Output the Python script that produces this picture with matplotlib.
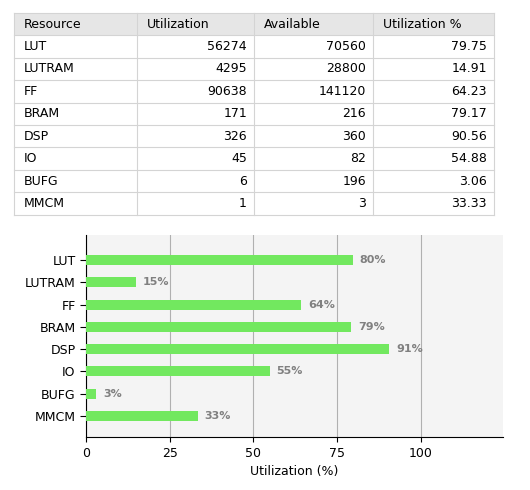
import matplotlib
matplotlib.use("Agg")
import matplotlib.pyplot as plt
from matplotlib.patches import Rectangle

resources = ["LUT", "LUTRAM", "FF", "BRAM", "DSP", "IO", "BUFG", "MMCM"]
utilization = [56274, 4295, 90638, 171, 326, 45, 6, 1]
available = [70560, 28800, 141120, 216, 360, 82, 196, 3]
util_pct = [79.75, 14.91, 64.23, 79.17, 90.56, 54.88, 3.06, 33.33]
headers = ["Resource", "Utilization", "Available", "Utilization %"]

W, H = 530, 490
fig = plt.figure(figsize=(W/100, H/100), dpi=100)
plt.rcParams['font.family'] = ['DejaVu Sans']

# table
tab = fig.add_axes([0, 0, 1, 1])
tab.set_xlim(0, W); tab.set_ylim(H, 0); tab.axis("off")
cols = [14, 137, 254, 373, 494]
top, rh = 13, 22.4
nrows = len(resources) + 1
tab.add_patch(Rectangle((cols[0], top), cols[-1]-cols[0], rh, fc="#e6e6e6", ec="none"))
for r in range(nrows + 1):
    tab.plot([cols[0], cols[-1]], [top + r*rh]*2, color="#d4d4d4", lw=0.8)
for c in cols:
    tab.plot([c, c], [top, top + nrows*rh], color="#d4d4d4", lw=0.8)
fs = 9
for j, h in enumerate(headers):
    tab.text(cols[j] + 10, top + rh/2, h, ha="left", va="center", fontsize=fs)
for i, name in enumerate(resources):
    y = top + (i + 1.5) * rh
    tab.text(cols[0] + 10, y, name, ha="left", va="center", fontsize=fs)
    vals = [str(utilization[i]), str(available[i]), f"{util_pct[i]:.2f}"]
    for j, v in enumerate(vals):
        tab.text(cols[j + 2] - 7, y, v, ha="right", va="center", fontsize=fs)

# chart
x0, x1, y0, y1 = 86, 503, 235, 437
ax = fig.add_axes([x0/W, 1 - y1/H, (x1-x0)/W, (y1-y0)/H])
ax.set_facecolor("#f4f4f4")
pos = list(range(len(resources)))
ax.barh(pos, util_pct, height=0.45, color="#72e85f", zorder=3)
for p, v in zip(pos, util_pct):
    ax.text(v + 2, p, f"{round(v):d}%", va="center", ha="left", fontsize=8,
            fontweight="bold", color="#808080", zorder=4)
ax.set_yticks(pos)
ax.set_yticklabels(resources, fontsize=fs)
ax.set_ylim(7.94, -1.12)
ax.set_xlim(0, 124.5)
ax.set_xticks([0, 25, 50, 75, 100])
ax.tick_params(axis="x", labelsize=fs)
ax.tick_params(axis="y", length=4)
ax.grid(axis="x", color="#b0b0b0", lw=0.8, zorder=0)
for s in ["top", "right"]:
    ax.spines[s].set_visible(False)
ax.set_xlabel("Utilization (%)", fontsize=fs)
fig.savefig("out.png", dpi=100)
